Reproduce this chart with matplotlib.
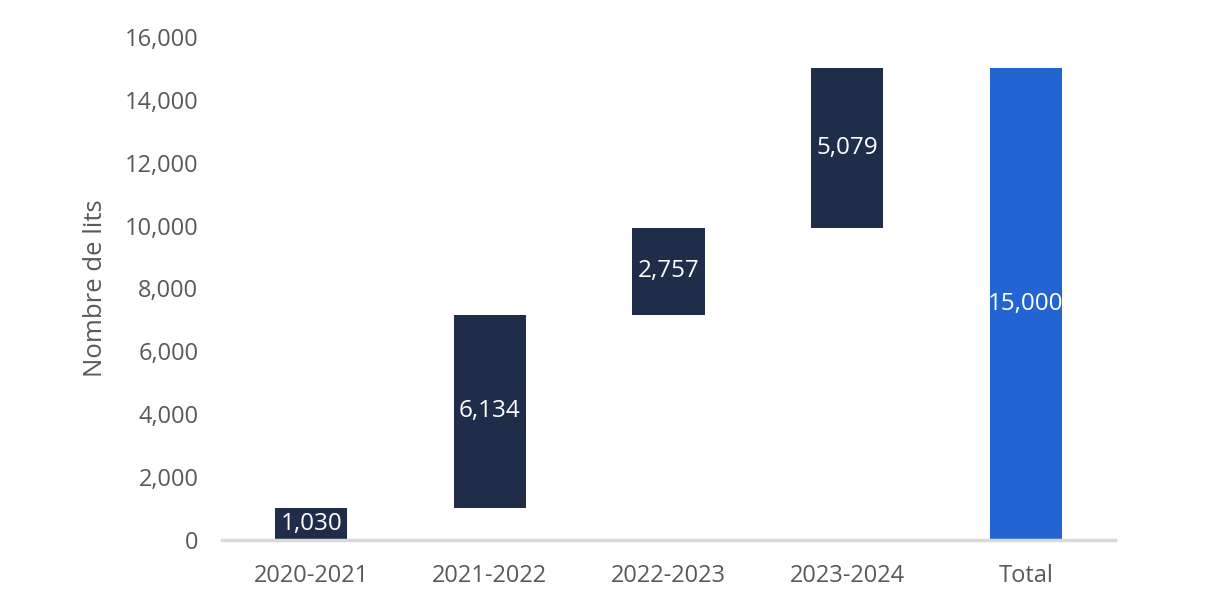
import numpy as np
import matplotlib.pyplot as plt
from matplotlib.ticker import FuncFormatter

plt.rcParams['font.family'] = ['Open Sans', 'DejaVu Sans']

# waterfall data: increments per fiscal year, then the total
categories = ['2020-2021', '2021-2022', '2022-2023', '2023-2024', 'Total']
increments = [1030, 6134, 2757, 5079]
total = 15000

navy = '#1F2D4B'
blue = '#2264D1'
grey_text = '#595959'

bottoms = np.concatenate([[0], np.cumsum(increments)[:-1]])
heights = list(increments) + [total]
bases = list(bottoms) + [0]
colors = [navy] * len(increments) + [blue]

fig = plt.figure(figsize=(12.18, 6.06), dpi=100)
ax = fig.add_axes([222/1218, 66/606, 893/1218, 503/606])

x = np.arange(len(categories))
bars = ax.bar(x, heights, bottom=bases, width=0.405, color=colors, zorder=2)

for b, h, base in zip(bars, heights, bases):
    ax.text(b.get_x() + b.get_width()/2, base + h/2, f'{h:,}',
            ha='center', va='center', color='white', fontsize=17.5, zorder=3)

ax.set_ylim(0, 16000)
ax.set_xlim(-0.5, len(categories) - 0.5)
ax.set_yticks(np.arange(0, 16001, 2000))
ax.yaxis.set_major_formatter(FuncFormatter(lambda v, p: f'{int(v):,}'))
ax.set_xticks(x)
ax.set_xticklabels(categories)

for s in ['top', 'right', 'left']:
    ax.spines[s].set_visible(False)
ax.spines['bottom'].set_color('#D9D9D9')
ax.spines['bottom'].set_linewidth(2.5)
ax.tick_params(axis='both', length=0, labelsize=17, colors=grey_text)
ax.tick_params(axis='y', pad=17)
ax.tick_params(axis='x', pad=17)
ax.set_ylabel('Nombre de lits', fontsize=18.5, color=grey_text, labelpad=12)

fig.savefig('out.png', dpi=100)
